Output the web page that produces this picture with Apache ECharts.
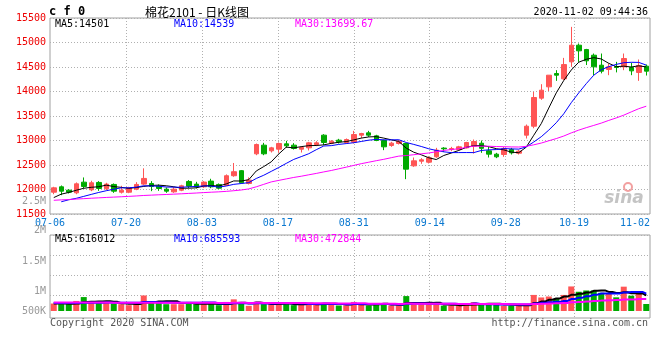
<!DOCTYPE html>
<html><head><meta charset="utf-8">
<script src="https://cdn.jsdelivr.net/npm/echarts@6/dist/echarts.min.js"></script>
<style>html,body{margin:0;padding:0;background:#fff}#c{width:660px;height:360px}</style>
</head><body><div id="c"></div>
<script>
// ---------------- data ----------------
const dates = ['07-06','07-07','07-08','07-09','07-10','07-13','07-14','07-15','07-16','07-17',
 '07-20','07-21','07-22','07-23','07-24','07-27','07-28','07-29','07-30','07-31',
 '08-03','08-04','08-05','08-06','08-07','08-10','08-11','08-12','08-13','08-14',
 '08-17','08-18','08-19','08-20','08-21','08-24','08-25','08-26','08-27','08-28',
 '08-31','09-01','09-02','09-03','09-04','09-07','09-08','09-09','09-10','09-11',
 '09-14','09-15','09-16','09-17','09-18','09-21','09-22','09-23','09-24','09-25',
 '09-28','09-29','09-30','10-09','10-12','10-13','10-14','10-15','10-16','10-19',
 '10-20','10-21','10-22','10-23','10-26','10-27','10-28','10-29','10-30','11-02'];
const labelDates = ['07-06','07-20','08-03','08-17','08-31','09-14','09-28','10-19','11-02'];

const openP = [11945,12055,11986,11932,12150,11993,12144,12014,12103,11945,
 11945,12007,12110,12123,12068,12007,11952,11986,12164,12110,
 12055,12171,12103,12082,12281,12384,12123,12728,12905,12789,
 12823,12932,12905,12823,12850,12918,13109,12946,13007,12959,
 12966,13109,13156,13095,13000,12898,12939,12939,12483,12578,
 12558,12667,12845,12816,12816,12850,12884,12945,12789,12721,
 12714,12816,12741,13109,13292,13864,14095,14367,14258,14605,
 14945,14857,14741,14537,14449,14510,14503,14490,14388,14517];
const closeP = [12034,11966,11945,12116,12062,12137,12021,12110,11966,11986,
 12034,12103,12226,12062,12021,11966,12007,12075,12068,12055,
 12151,12055,12027,12281,12363,12137,12192,12918,12728,12850,
 12939,12891,12837,12857,12952,12952,12959,12986,12973,13020,
 13122,13143,13109,13000,12871,12946,12986,12415,12585,12606,
 12646,12803,12830,12837,12871,12959,12980,12840,12721,12667,
 12837,12748,12782,13292,13877,14027,14333,14333,14550,14945,
 14830,14626,14503,14415,14503,14490,14673,14421,14531,14415];
const lowP = [11904,11884,11918,11904,12021,11966,11972,11986,11932,11918,
 11925,11986,12089,11966,11972,11932,11932,11966,12027,12021,
 12034,12027,12007,12075,12260,12123,12103,12700,12700,12755,
 12748,12850,12816,12755,12796,12884,12905,12925,12939,12939,
 12939,13048,13075,12986,12803,12871,12918,12211,12463,12524,
 12531,12646,12769,12782,12796,12837,12735,12748,12653,12640,
 12667,12714,12714,13041,13250,13830,14010,14217,14230,14503,
 14605,14540,14333,14370,14333,14390,14435,14333,14217,14326];
const highP = [12055,12082,12007,12144,12246,12178,12171,12137,12123,12075,
 12055,12150,12432,12171,12103,12041,12048,12096,12192,12157,
 12171,12219,12123,12308,12541,12398,12246,12938,12952,12870,
 12959,12993,12946,12884,12973,12986,13129,13007,13034,13041,
 13197,13156,13197,13116,13020,12973,13007,12939,12653,12640,
 12680,12850,12864,12870,12891,12973,13020,13000,12870,12748,
 12871,12850,12810,13326,13993,14149,14333,14435,14686,15319,
 14980,14870,14775,14775,14571,14605,14775,14585,14653,14551];

const ma5 = [11835,11905,11940,11985,12025,12045,12056,12089,12059,12044,
 12023,12040,12063,12082,12089,12076,12056,12026,12027,12034,
 12071,12081,12071,12114,12175,12173,12200,12378,12468,12565,
 12725,12865,12849,12875,12895,12898,12911,12941,12964,12978,
 13012,13049,13073,13079,13049,13014,12982,12844,12761,12708,
 12648,12611,12694,12744,12797,12860,12895,12897,12874,12833,
 12809,12763,12751,12865,13107,13345,13662,13972,14224,14438,
 14598,14657,14691,14664,14575,14507,14517,14500,14524,14501];
const ma10 = ['-',11750,11790,11820,11860,11900,11940,11975,12005,12034,
 12034,12048,12076,12071,12067,12050,12048,12045,12055,12062,
 12073,12069,12049,12071,12105,12122,12140,12225,12291,12370,
 12449,12533,12614,12671,12730,12812,12888,12895,12920,12937,
 12955,12980,13007,13022,13014,13013,13016,12959,12920,12878,
 12831,12797,12769,12753,12753,12754,12753,12796,12809,12815,
 12835,12829,12824,12870,12970,13077,13212,13362,13545,13772,
 13972,14160,14332,14444,14507,14553,14587,14596,14594,14539];
const ma30 = [11780,11788,11795,11805,11813,11822,11830,11838,11845,11852,
 11860,11868,11878,11885,11892,11898,11905,11912,11920,11928,
 11937,11945,11952,11962,11975,11990,12012,12055,12105,12155,
 12186,12216,12246,12271,12300,12328,12359,12388,12422,12456,
 12492,12527,12557,12588,12616,12649,12681,12693,12710,12728,
 12745,12770,12797,12815,12832,12859,12886,12883,12883,12877,
 12873,12869,12867,12881,12912,12948,12994,13039,13091,13155,
 13212,13262,13308,13355,13410,13461,13517,13584,13649,13699.67];

// volume, in thousands
const volumeK = [294,269,269,397,550,320,320,320,294,269,
 230,269,614,358,397,269,269,269,358,269,
 269,269,230,358,461,294,205,358,269,269,
 320,269,230,269,320,269,320,269,218,218,
 358,269,218,269,307,218,218,589,269,269,
 261,261,212,212,212,311,349,299,261,236,
 212,212,212,261,635,535,573,473,635,970,
 760,810,810,720,672,540,961,606,698,276];
const volMa5K = [300,295,290,300,356,361,371,381,361,305,
 287,276,335,348,374,381,381,312,312,287,
 287,287,279,279,317,322,310,335,317,279,
 284,297,271,271,282,271,282,289,279,259,
 277,266,256,266,284,256,246,320,320,313,
 321,330,254,243,232,242,259,277,286,291,
 271,244,227,227,306,371,443,495,570,637,
 682,730,797,814,754,710,741,700,695,616.012];
const volMa10K = [320,318,315,318,322,326,330,332,330,330,
 324,324,358,354,339,334,329,324,330,330,
 334,334,296,296,302,305,298,307,298,298,
 303,303,303,294,280,278,289,280,275,270,
 274,274,273,273,272,266,256,288,293,298,
 289,288,287,282,272,281,295,266,265,261,
 257,252,252,257,299,321,344,361,398,472,
 527,586,646,692,696,696,735,748,755,685.593];
const volMa30K = [340,338,336,335,334,333,332,331,330,329,
 328,327,328,327,326,325,324,323,323,322,
 322,321,320,320,321,321,320,321,320,320,
 320,320,319,315,307,305,305,304,301,300,
 304,304,291,288,285,283,281,292,289,289,
 289,288,288,283,275,275,280,278,278,277,
 273,271,271,270,281,290,298,305,319,344,
 357,375,395,410,422,433,458,458,473,472.844];

const volTickLabels = ['2.5M','2M','1.5M','1M','500K'];
const priceLegend = ['MA5:14501','MA10:14539','MA30:13699.67'];
const volLegend = ['MA5:616012','MA10:685593','MA30:472844'];
const titleCode = 'c f 0';
const titleText = '棉花2101 - 日K线图';
const timeText = '2020-11-02 09:44:36';
const footLeft = 'Copyright 2020 SINA.COM';
const footRight = 'http://finance.sina.com.cn';

// ---------------- layout / style ----------------
const MONO = '"DejaVu Sans Mono","Liberation Mono",monospace';
const RED = '#ff5555', GREEN = '#00aa00', FRAME = '#a0a0a0', GRIDC = '#b0b0b0';
const MA_COLORS = ['#000000', '#0000ff', '#ff00ff'];
const L = 50, R = 10;
const legendX = [55, 174, 295];
const volLabelY = [201, 230, 261, 291, 311];

const labelIdx = labelDates.map(d => dates.indexOf(d));
const innerIdx = labelIdx.filter(i => i !== 0 && i !== dates.length - 1);

const candles = dates.map((d, i) => [openP[i], closeP[i], lowP[i], highP[i]]);
const volData = volumeK.map((v, i) => ({ value: v, itemStyle: { color: closeP[i] >= openP[i] ? RED : GREEN } }));
const splitX = {
  show: true,
  interval: (idx) => innerIdx.includes(idx),
  lineStyle: { color: GRIDC, type: [1, 2], width: 1 }
};
const lineS = (data, color, w, xi, yi, step) => ({
  type: 'line', data, xAxisIndex: xi, yAxisIndex: yi, symbol: 'none', step: step || false,
  lineStyle: { color, width: w }, silent: true, z: 5
});

const graphic = [];
const txt = (text, x, y, fill, font, align) => graphic.push({
  type: 'text', x, y, silent: true, z: 100,
  style: { text, fill, font, textAlign: align || 'left', textVerticalAlign: 'middle' }
});
txt(titleCode, 49, 12, '#000', 'bold 12px ' + MONO);
txt(titleText, 197, 12, '#000', '12px "Noto Sans CJK SC"', 'center');
txt(timeText, 648, 12, '#000', '10px ' + MONO, 'right');
priceLegend.forEach((t, i) => txt(t, legendX[i], 24, MA_COLORS[i], '10px ' + MONO));
volLegend.forEach((t, i) => txt(t, legendX[i], 239, MA_COLORS[i], '10px ' + MONO));
volTickLabels.forEach((t, i) => txt(t, 46, volLabelY[i], '#999999', '10px ' + MONO, 'right'));
txt(footLeft, 50, 323, '#555555', '10px ' + MONO);
txt(footRight, 648, 323, '#555555', '10px ' + MONO, 'right');
// sina watermark
graphic.push({ type: 'circle', x: 628, y: 187, silent: true, z: 1,
  shape: { r: 4 }, style: { fill: 'none', stroke: '#f2a0a0', lineWidth: 2 } });
txt('sina', 624, 199, '#c4c4c4', 'italic bold 17px "DejaVu Sans"', 'center');

const chart = echarts.init(document.getElementById('c'), null, { renderer: 'canvas' });
chart.setOption({
  animation: false,
  backgroundColor: '#fff',
  graphic,
  grid: [
    { left: L, right: R, top: 18, height: 196, show: true, borderColor: FRAME, borderWidth: 1 },
    { left: L, right: R, top: 235, height: 83, show: true, borderColor: FRAME, borderWidth: 1 },
    { left: L, right: R, top: 235, height: 76 },
    { left: L, right: R, top: 235, height: 60 }
  ],
  xAxis: [
    { gridIndex: 0, type: 'category', data: dates, boundaryGap: true, show: false, position: 'top' },
    { gridIndex: 0, type: 'category', data: dates, boundaryGap: false, position: 'bottom',
      axisLine: { show: false }, axisTick: { show: false }, splitLine: splitX,
      axisLabel: { interval: (i) => labelIdx.includes(i), color: '#0a78d0',
        fontFamily: MONO, fontSize: 10, margin: 4, alignMaxLabel: 'right' } },
    { gridIndex: 1, type: 'category', data: dates, boundaryGap: false, position: 'bottom',
      axisLine: { show: false }, axisTick: { show: false }, axisLabel: { show: false }, splitLine: splitX },
    { gridIndex: 2, type: 'category', data: dates, boundaryGap: true, show: false },
    { gridIndex: 3, type: 'category', data: dates, show: false }
  ],
  yAxis: [
    { gridIndex: 0, min: 11500, max: 15500, interval: 500,
      axisLine: { show: false }, axisTick: { show: false },
      splitLine: { show: true, lineStyle: { color: GRIDC, type: [1, 2] } },
      axisLabel: { color: '#ee0000', fontFamily: MONO, fontSize: 10, margin: 4, padding: [0, 0, 6, 0],
        formatter: (v) => String(v) } },
    { gridIndex: 1, min: 0, max: 1, show: false },
    { gridIndex: 2, min: 0, max: 3002, show: false },
    { gridIndex: 3, min: 0, max: 3, interval: 1,
      axisLine: { show: false }, axisTick: { show: false }, axisLabel: { show: false },
      splitLine: { show: true, lineStyle: { color: GRIDC, type: [1, 2] } } }
  ],
  series: [
    { type: 'candlestick', xAxisIndex: 0, yAxisIndex: 0, data: candles, barWidth: 5, z: 3,
      itemStyle: { color: RED, color0: GREEN, borderColor: RED, borderColor0: GREEN, borderWidth: 1 } },
    lineS(ma5, MA_COLORS[0], 1, 0, 0),
    lineS(ma10, MA_COLORS[1], 1, 0, 0),
    lineS(ma30, MA_COLORS[2], 1, 0, 0),
    { type: 'bar', xAxisIndex: 3, yAxisIndex: 2, data: volData, barWidth: 6, z: 3 },
    lineS(volMa5K, MA_COLORS[0], 2, 3, 2, 'middle'),
    lineS(volMa10K, MA_COLORS[1], 2, 3, 2, 'middle'),
    lineS(volMa30K, MA_COLORS[2], 2, 3, 2, 'middle')
  ]
});
</script>
</body></html>
